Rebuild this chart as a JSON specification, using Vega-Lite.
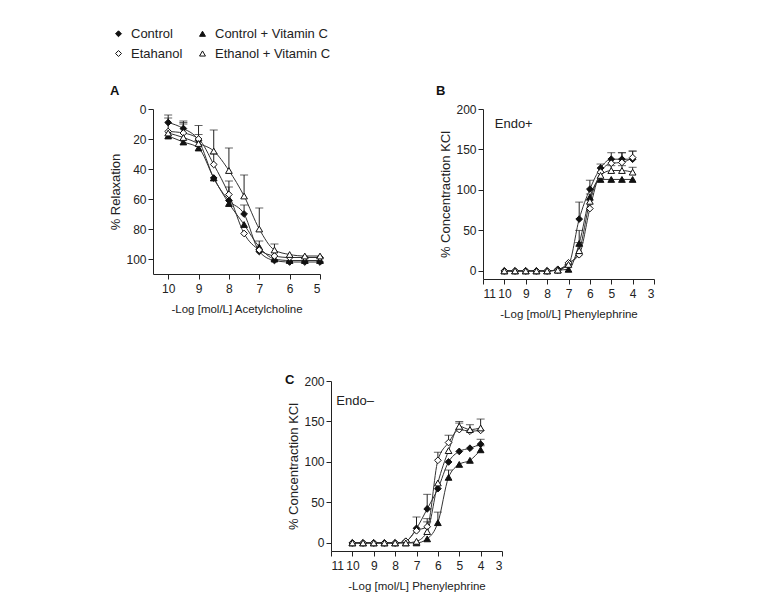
{
  "$schema": "https://vega.github.io/schema/vega-lite/v6.json",
  "background": "white",
  "padding": {"left": 109, "top": 27, "right": 5, "bottom": 5},
  "config": {
    "font": "Liberation Sans, Arial, sans-serif",
    "view": {"stroke": null},
    "axis": {
      "grid": false,
      "domainColor": "#222",
      "tickColor": "#222",
      "labelColor": "#222",
      "titleColor": "#222",
      "labelFontSize": 12,
      "titleFontWeight": "normal",
      "tickSize": 5,
      "labelPadding": 2
    },
    "axisX": {"titleFontSize": 11.5, "titlePadding": 9, "labelPadding": 4},
    "axisY": {"titleFontSize": 13, "titlePadding": 3},
    "legend": {
      "orient": "none",
      "legendX": -41,
      "legendY": -82,
      "columns": 2,
      "title": null,
      "symbolSize": 35,
      "symbolStrokeColor": "#111",
      "symbolStrokeWidth": 1,
      "labelFontSize": 13,
      "labelColor": "#222",
      "columnPadding": 13,
      "rowPadding": 6,
      "labelOffset": 6
    },
    "title": {"fontSize": 13, "fontWeight": "bold", "anchor": "start", "color": "#111"}
  },
  "datasets": {
    "A": [
      {"x": 10, "y": 9, "g": "Control", "cap": 4},
      {"x": 9.5, "y": 13, "g": "Control", "cap": 8},
      {"x": 9, "y": 21, "g": "Control", "cap": 17},
      {"x": 8.5, "y": 46, "g": "Control", "cap": null},
      {"x": 8, "y": 61, "g": "Control", "cap": 52},
      {"x": 7.5, "y": 70, "g": "Control", "cap": 64},
      {"x": 7, "y": 95, "g": "Control", "cap": null},
      {"x": 6.5, "y": 101, "g": "Control", "cap": null},
      {"x": 6, "y": 102, "g": "Control", "cap": null},
      {"x": 5.5, "y": 102, "g": "Control", "cap": null},
      {"x": 5, "y": 102, "g": "Control", "cap": null},
      {"x": 10, "y": 18, "g": "Control + Vitamin C", "cap": null},
      {"x": 9.5, "y": 22, "g": "Control + Vitamin C", "cap": null},
      {"x": 9, "y": 26, "g": "Control + Vitamin C", "cap": null},
      {"x": 8.5, "y": 46, "g": "Control + Vitamin C", "cap": null},
      {"x": 8, "y": 63, "g": "Control + Vitamin C", "cap": null},
      {"x": 7.5, "y": 77, "g": "Control + Vitamin C", "cap": null},
      {"x": 7, "y": 92, "g": "Control + Vitamin C", "cap": 88},
      {"x": 6.5, "y": 100, "g": "Control + Vitamin C", "cap": null},
      {"x": 6, "y": 101, "g": "Control + Vitamin C", "cap": null},
      {"x": 5.5, "y": 101, "g": "Control + Vitamin C", "cap": null},
      {"x": 5, "y": 101, "g": "Control + Vitamin C", "cap": null},
      {"x": 10, "y": 15, "g": "Etahanol", "cap": null},
      {"x": 9.5, "y": 16, "g": "Etahanol", "cap": 10},
      {"x": 9, "y": 20, "g": "Etahanol", "cap": 11},
      {"x": 8.5, "y": 37, "g": "Etahanol", "cap": 30},
      {"x": 8, "y": 57, "g": "Etahanol", "cap": 48},
      {"x": 7.5, "y": 83, "g": "Etahanol", "cap": null},
      {"x": 7, "y": 94, "g": "Etahanol", "cap": null},
      {"x": 6.5, "y": 98, "g": "Etahanol", "cap": null},
      {"x": 6, "y": 99, "g": "Etahanol", "cap": null},
      {"x": 5.5, "y": 99, "g": "Etahanol", "cap": null},
      {"x": 5, "y": 99, "g": "Etahanol", "cap": null},
      {"x": 10, "y": 16, "g": "Ethanol + Vitamin C", "cap": 6},
      {"x": 9.5, "y": 19, "g": "Ethanol + Vitamin C", "cap": 9},
      {"x": 9, "y": 23, "g": "Ethanol + Vitamin C", "cap": null},
      {"x": 8.5, "y": 28, "g": "Ethanol + Vitamin C", "cap": 14},
      {"x": 8, "y": 41, "g": "Ethanol + Vitamin C", "cap": 26},
      {"x": 7.5, "y": 58, "g": "Ethanol + Vitamin C", "cap": 44},
      {"x": 7, "y": 80, "g": "Ethanol + Vitamin C", "cap": 66},
      {"x": 6.5, "y": 94, "g": "Ethanol + Vitamin C", "cap": 90},
      {"x": 6, "y": 97, "g": "Ethanol + Vitamin C", "cap": null},
      {"x": 5.5, "y": 98, "g": "Ethanol + Vitamin C", "cap": null},
      {"x": 5, "y": 98, "g": "Ethanol + Vitamin C", "cap": null}
    ],
    "B": [
      {"x": 10, "y": 0, "g": "Control", "cap": null},
      {"x": 9.5, "y": 0, "g": "Control", "cap": null},
      {"x": 9, "y": 0, "g": "Control", "cap": null},
      {"x": 8.5, "y": 0, "g": "Control", "cap": null},
      {"x": 8, "y": 0, "g": "Control", "cap": null},
      {"x": 7.5, "y": 2, "g": "Control", "cap": null},
      {"x": 7, "y": 8, "g": "Control", "cap": null},
      {"x": 6.5, "y": 64, "g": "Control", "cap": 85},
      {"x": 6, "y": 101, "g": "Control", "cap": 112},
      {"x": 5.5, "y": 127, "g": "Control", "cap": 132},
      {"x": 5, "y": 138, "g": "Control", "cap": 146},
      {"x": 4.5, "y": 138, "g": "Control", "cap": 146},
      {"x": 4, "y": 138, "g": "Control", "cap": 148},
      {"x": 10, "y": 0, "g": "Control + Vitamin C", "cap": null},
      {"x": 9.5, "y": 0, "g": "Control + Vitamin C", "cap": null},
      {"x": 9, "y": 0, "g": "Control + Vitamin C", "cap": null},
      {"x": 8.5, "y": 0, "g": "Control + Vitamin C", "cap": null},
      {"x": 8, "y": 0, "g": "Control + Vitamin C", "cap": null},
      {"x": 7.5, "y": 1, "g": "Control + Vitamin C", "cap": null},
      {"x": 7, "y": 2, "g": "Control + Vitamin C", "cap": null},
      {"x": 6.5, "y": 34, "g": "Control + Vitamin C", "cap": null},
      {"x": 6, "y": 91, "g": "Control + Vitamin C", "cap": null},
      {"x": 5.5, "y": 113, "g": "Control + Vitamin C", "cap": null},
      {"x": 5, "y": 113, "g": "Control + Vitamin C", "cap": null},
      {"x": 4.5, "y": 113, "g": "Control + Vitamin C", "cap": null},
      {"x": 4, "y": 113, "g": "Control + Vitamin C", "cap": null},
      {"x": 10, "y": 0, "g": "Etahanol", "cap": null},
      {"x": 9.5, "y": 0, "g": "Etahanol", "cap": null},
      {"x": 9, "y": 0, "g": "Etahanol", "cap": null},
      {"x": 8.5, "y": 0, "g": "Etahanol", "cap": null},
      {"x": 8, "y": 0, "g": "Etahanol", "cap": null},
      {"x": 7.5, "y": 1, "g": "Etahanol", "cap": null},
      {"x": 7, "y": 10, "g": "Etahanol", "cap": null},
      {"x": 6.5, "y": 20, "g": "Etahanol", "cap": 35},
      {"x": 6, "y": 77, "g": "Etahanol", "cap": null},
      {"x": 5.5, "y": 122, "g": "Etahanol", "cap": null},
      {"x": 5, "y": 133, "g": "Etahanol", "cap": null},
      {"x": 4.5, "y": 134, "g": "Etahanol", "cap": 146},
      {"x": 4, "y": 140, "g": "Etahanol", "cap": 148},
      {"x": 10, "y": 0, "g": "Ethanol + Vitamin C", "cap": null},
      {"x": 9.5, "y": 0, "g": "Ethanol + Vitamin C", "cap": null},
      {"x": 9, "y": 0, "g": "Ethanol + Vitamin C", "cap": null},
      {"x": 8.5, "y": 0, "g": "Ethanol + Vitamin C", "cap": null},
      {"x": 8, "y": 0, "g": "Ethanol + Vitamin C", "cap": null},
      {"x": 7.5, "y": 1, "g": "Ethanol + Vitamin C", "cap": null},
      {"x": 7, "y": 8, "g": "Ethanol + Vitamin C", "cap": null},
      {"x": 6.5, "y": 25, "g": "Ethanol + Vitamin C", "cap": 50},
      {"x": 6, "y": 86, "g": "Ethanol + Vitamin C", "cap": 95},
      {"x": 5.5, "y": 118, "g": "Ethanol + Vitamin C", "cap": null},
      {"x": 5, "y": 124, "g": "Ethanol + Vitamin C", "cap": 130},
      {"x": 4.5, "y": 124, "g": "Ethanol + Vitamin C", "cap": 130},
      {"x": 4, "y": 122, "g": "Ethanol + Vitamin C", "cap": 128}
    ],
    "C": [
      {"x": 10, "y": 0, "g": "Control", "cap": null},
      {"x": 9.5, "y": 0, "g": "Control", "cap": null},
      {"x": 9, "y": 0, "g": "Control", "cap": null},
      {"x": 8.5, "y": 0, "g": "Control", "cap": null},
      {"x": 8, "y": 0, "g": "Control", "cap": null},
      {"x": 7.5, "y": 2, "g": "Control", "cap": null},
      {"x": 7, "y": 18, "g": "Control", "cap": 32},
      {"x": 6.5, "y": 42, "g": "Control", "cap": 60},
      {"x": 6, "y": 67, "g": "Control", "cap": null},
      {"x": 5.5, "y": 100, "g": "Control", "cap": null},
      {"x": 5, "y": 113, "g": "Control", "cap": null},
      {"x": 4.5, "y": 117, "g": "Control", "cap": null},
      {"x": 4, "y": 122, "g": "Control", "cap": 128},
      {"x": 10, "y": 0, "g": "Control + Vitamin C", "cap": null},
      {"x": 9.5, "y": 0, "g": "Control + Vitamin C", "cap": null},
      {"x": 9, "y": 0, "g": "Control + Vitamin C", "cap": null},
      {"x": 8.5, "y": 0, "g": "Control + Vitamin C", "cap": null},
      {"x": 8, "y": 0, "g": "Control + Vitamin C", "cap": null},
      {"x": 7.5, "y": 0, "g": "Control + Vitamin C", "cap": null},
      {"x": 7, "y": 0, "g": "Control + Vitamin C", "cap": null},
      {"x": 6.5, "y": 5, "g": "Control + Vitamin C", "cap": null},
      {"x": 6, "y": 25, "g": "Control + Vitamin C", "cap": 38},
      {"x": 5.5, "y": 81, "g": "Control + Vitamin C", "cap": 90},
      {"x": 5, "y": 97, "g": "Control + Vitamin C", "cap": null},
      {"x": 4.5, "y": 102, "g": "Control + Vitamin C", "cap": null},
      {"x": 4, "y": 115, "g": "Control + Vitamin C", "cap": 120},
      {"x": 10, "y": 0, "g": "Etahanol", "cap": null},
      {"x": 9.5, "y": 0, "g": "Etahanol", "cap": null},
      {"x": 9, "y": 0, "g": "Etahanol", "cap": null},
      {"x": 8.5, "y": 0, "g": "Etahanol", "cap": null},
      {"x": 8, "y": 0, "g": "Etahanol", "cap": null},
      {"x": 7.5, "y": 2, "g": "Etahanol", "cap": null},
      {"x": 7, "y": 15, "g": "Etahanol", "cap": null},
      {"x": 6.5, "y": 20, "g": "Etahanol", "cap": 30},
      {"x": 6, "y": 102, "g": "Etahanol", "cap": 112},
      {"x": 5.5, "y": 124, "g": "Etahanol", "cap": 133},
      {"x": 5, "y": 140, "g": "Etahanol", "cap": 148},
      {"x": 4.5, "y": 138, "g": "Etahanol", "cap": 146},
      {"x": 4, "y": 139, "g": "Etahanol", "cap": 153},
      {"x": 10, "y": 0, "g": "Ethanol + Vitamin C", "cap": null},
      {"x": 9.5, "y": 0, "g": "Ethanol + Vitamin C", "cap": null},
      {"x": 9, "y": 0, "g": "Ethanol + Vitamin C", "cap": null},
      {"x": 8.5, "y": 0, "g": "Ethanol + Vitamin C", "cap": null},
      {"x": 8, "y": 0, "g": "Ethanol + Vitamin C", "cap": null},
      {"x": 7.5, "y": 0, "g": "Ethanol + Vitamin C", "cap": null},
      {"x": 7, "y": 2, "g": "Ethanol + Vitamin C", "cap": null},
      {"x": 6.5, "y": 14, "g": "Ethanol + Vitamin C", "cap": 26},
      {"x": 6, "y": 74, "g": "Ethanol + Vitamin C", "cap": null},
      {"x": 5.5, "y": 114, "g": "Ethanol + Vitamin C", "cap": null},
      {"x": 5, "y": 144, "g": "Ethanol + Vitamin C", "cap": 150},
      {"x": 4.5, "y": 140, "g": "Ethanol + Vitamin C", "cap": null},
      {"x": 4, "y": 142, "g": "Ethanol + Vitamin C", "cap": null}
    ]
  },
  "resolve": {"scale": {"shape": "shared", "fill": "shared", "stroke": "shared"}},
  "spacing": 54,
  "vconcat": [
    {
      "spacing": 109,
      "hconcat": [
        {
          "width": 167,
          "height": 165,
          "title": {"text": "A", "dx": 0, "offset": 5},
          "data": {"name": "A"},
          "encoding": {
            "x": {"field": "x", "type": "quantitative", "title": "-Log [mol/L] Acetylcholine",
                  "scale": {"domain": [5, 10.5], "reverse": true, "nice": false, "zero": false},
                  "axis": {"values": [10, 9, 8, 7, 6, 5], "format": "d"}},
            "y": {"field": "y", "type": "quantitative", "title": "% Relaxation",
                  "scale": {"domain": [0, 110], "reverse": true, "nice": false},
                  "axis": {"values": [0, 20, 40, 60, 80, 100]}}
          },
          "layer": [
            {"mark": {"type": "line", "interpolate": "monotone", "color": "#333", "strokeWidth": 1},
             "encoding": {"detail": {"field": "g"}}},
            {"transform": [{"filter": "datum.cap != null"}],
             "mark": {"type": "rule", "color": "#222", "strokeWidth": 1},
             "encoding": {"y2": {"field": "cap"}}},
            {"transform": [{"filter": "datum.cap != null"}],
             "mark": {"type": "tick", "orient": "horizontal", "color": "#222", "thickness": 1, "size": 8},
             "encoding": {"y": {"field": "cap", "type": "quantitative"}}},
            {"mark": {"type": "point", "filled": true, "size": 45, "strokeWidth": 1, "opacity": 1},
             "encoding": {
               "shape": {"field": "g", "type": "nominal",
                         "scale": {"domain": ["Control", "Etahanol", "Control + Vitamin C", "Ethanol + Vitamin C"], "range": ["diamond", "diamond", "triangle-up", "triangle-up"]}},
               "fill": {"field": "g", "type": "nominal",
                        "scale": {"domain": ["Control", "Etahanol", "Control + Vitamin C", "Ethanol + Vitamin C"], "range": ["#111", "white", "#111", "white"]}},
               "stroke": {"field": "g", "type": "nominal",
                        "scale": {"domain": ["Control", "Etahanol", "Control + Vitamin C", "Ethanol + Vitamin C"], "range": ["#111", "#111", "#111", "#111"]}}
             }}
          ]
        },
        {
          "width": 171,
          "height": 170,
          "title": {"text": "B", "dx": -4, "offset": 5},
          "data": {"name": "B"},
          "encoding": {
            "x": {"field": "x", "type": "quantitative", "title": "-Log [mol/L] Phenylephrine",
                  "scale": {"domain": [3, 11], "reverse": true, "nice": false, "zero": false},
                  "axis": {"values": [11, 10, 9, 8, 7, 6, 5, 4, 3], "format": "d"}},
            "y": {"field": "y", "type": "quantitative", "title": "% Concentraction KCl",
                  "scale": {"domain": [-10, 200], "nice": false},
                  "axis": {"values": [0, 50, 100, 150, 200]}}
          },
          "layer": [
            {"mark": {"type": "line", "interpolate": "monotone", "color": "#333", "strokeWidth": 1},
             "encoding": {"detail": {"field": "g"}}},
            {"transform": [{"filter": "datum.cap != null"}],
             "mark": {"type": "rule", "color": "#222", "strokeWidth": 1},
             "encoding": {"y2": {"field": "cap"}}},
            {"transform": [{"filter": "datum.cap != null"}],
             "mark": {"type": "tick", "orient": "horizontal", "color": "#222", "thickness": 1, "size": 8},
             "encoding": {"y": {"field": "cap", "type": "quantitative"}}},
            {"mark": {"type": "point", "filled": true, "size": 45, "strokeWidth": 1, "opacity": 1},
             "encoding": {
               "shape": {"field": "g", "type": "nominal"},
               "fill": {"field": "g", "type": "nominal"},
               "stroke": {"field": "g", "type": "nominal"}
             }},
            {"transform": [{"filter": "datum.x == 10 && datum.g == 'Control'"}],
             "mark": {"type": "text", "align": "left", "baseline": "middle", "fontSize": 13, "color": "#222"},
             "encoding": {"x": {"datum": 10.45}, "y": {"datum": 181}, "text": {"value": "Endo+"}}}
          ]
        }
      ]
    },
    {
      "spacing": 0,
      "hconcat": [
        {"width": 131, "height": 1, "data": {"values": []}, "mark": "point"},
        {
          "width": 171,
          "height": 170,
          "title": {"text": "C", "dx": -3, "dy": 12, "offset": 0},
          "data": {"name": "C"},
          "encoding": {
            "x": {"field": "x", "type": "quantitative", "title": "-Log [mol/L] Phenylephrine",
                  "scale": {"domain": [3, 11], "reverse": true, "nice": false, "zero": false},
                  "axis": {"values": [11, 10, 9, 8, 7, 6, 5, 4, 3], "format": "d"}},
            "y": {"field": "y", "type": "quantitative", "title": "% Concentraction KCl",
                  "scale": {"domain": [-10, 200], "nice": false},
                  "axis": {"values": [0, 50, 100, 150, 200]}}
          },
          "layer": [
            {"mark": {"type": "line", "interpolate": "monotone", "color": "#333", "strokeWidth": 1},
             "encoding": {"detail": {"field": "g"}}},
            {"transform": [{"filter": "datum.cap != null"}],
             "mark": {"type": "rule", "color": "#222", "strokeWidth": 1},
             "encoding": {"y2": {"field": "cap"}}},
            {"transform": [{"filter": "datum.cap != null"}],
             "mark": {"type": "tick", "orient": "horizontal", "color": "#222", "thickness": 1, "size": 8},
             "encoding": {"y": {"field": "cap", "type": "quantitative"}}},
            {"mark": {"type": "point", "filled": true, "size": 45, "strokeWidth": 1, "opacity": 1},
             "encoding": {
               "shape": {"field": "g", "type": "nominal"},
               "fill": {"field": "g", "type": "nominal"},
               "stroke": {"field": "g", "type": "nominal"}
             }},
            {"transform": [{"filter": "datum.x == 10 && datum.g == 'Control'"}],
             "mark": {"type": "text", "align": "left", "baseline": "middle", "fontSize": 13, "color": "#222"},
             "encoding": {"x": {"datum": 10.75}, "y": {"datum": 175}, "text": {"value": "Endo–"}}}
          ]
        }
      ]
    }
  ]
}
